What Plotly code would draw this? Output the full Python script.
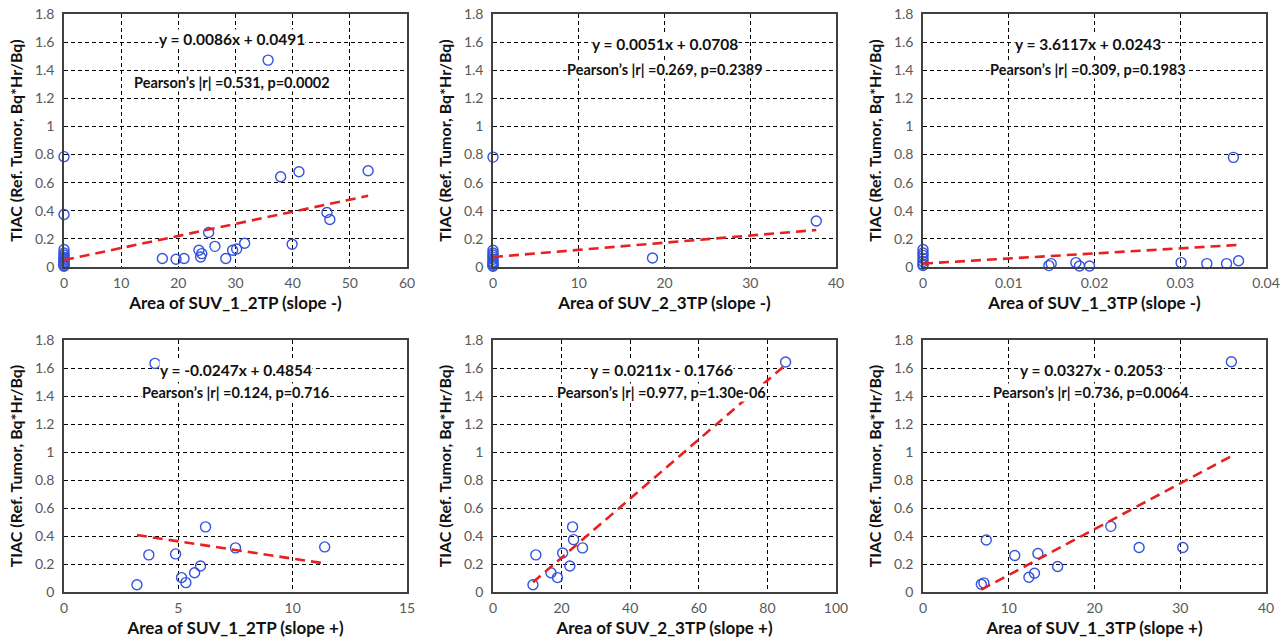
import numpy as np
import plotly.graph_objects as go
from plotly.subplots import make_subplots

# ---- data ----
x_suv1_2tp_neg = [0, 0, 0, 0, 0, 0, 0, 0, 0, 0, 0, 0, 0,
                  35.7, 37.9, 41.1, 53.2, 46.0, 46.5, 39.9, 25.3, 26.4, 23.6, 24.1, 23.9,
                  17.2, 19.6, 21.0, 28.3, 29.5, 30.2, 31.6]
y_suv1_2tp_neg = [0.785, 0.373, 0.124, 0.10, 0.085, 0.07, 0.06, 0.05, 0.04, 0.03, 0.02, 0.01, 0.005,
                  1.472, 0.642, 0.678, 0.685, 0.388, 0.338, 0.162, 0.245, 0.147, 0.119, 0.095, 0.071,
                  0.06, 0.055, 0.06, 0.06, 0.119, 0.128, 0.169]

x_suv2_3tp_neg = [0, 0, 0, 0, 0, 0, 0, 0, 0, 0, 0, 18.6, 37.7]
y_suv2_3tp_neg = [0.782, 0.119, 0.10, 0.085, 0.07, 0.055, 0.04, 0.03, 0.02, 0.01, 0.005, 0.064, 0.327]

x_suv1_3tp_neg = [0, 0, 0, 0, 0, 0, 0,
                  0.0362, 0.01468, 0.01495, 0.01783, 0.01825, 0.01942, 0.0301, 0.0331, 0.0354, 0.0368]
y_suv1_3tp_neg = [0.124, 0.10, 0.083, 0.06, 0.04, 0.02, 0.01,
                  0.78, 0.01, 0.024, 0.031, 0.007, 0.007, 0.031, 0.024, 0.024, 0.045]

x_suv1_2tp_pos = [3.98, 3.19, 3.71, 4.88, 6.19, 5.14, 5.33, 5.71, 5.97, 7.50, 11.40]
y_suv1_2tp_pos = [1.633, 0.052, 0.265, 0.272, 0.465, 0.103, 0.067, 0.138, 0.186, 0.315, 0.322]

x_suv2_3tp_pos = [85.3, 11.65, 12.5, 16.9, 18.8, 20.3, 22.4, 23.2, 23.5, 26.1]
y_suv2_3tp_pos = [1.643, 0.052, 0.265, 0.138, 0.103, 0.279, 0.186, 0.465, 0.374, 0.315]

x_suv1_3tp_pos = [35.96, 6.80, 7.10, 7.38, 10.7, 12.35, 13.0, 13.4, 15.7, 21.9, 25.2, 30.3]
y_suv1_3tp_pos = [1.645, 0.055, 0.065, 0.371, 0.261, 0.105, 0.134, 0.275, 0.182, 0.469, 0.318, 0.318]

x_titles = ["Area of SUV_1_2TP (slope -)", "Area of SUV_2_3TP (slope -)", "Area of SUV_1_3TP (slope -)",
            "Area of SUV_1_2TP (slope +)", "Area of SUV_2_3TP (slope +)", "Area of SUV_1_3TP (slope +)"]
y_title = "TIAC (Ref. Tumor, Bq*Hr/Bq)"

slopes = [0.0086, 0.0051, 3.6117, -0.0247, 0.0211, 0.0327]
intercepts = [0.0491, 0.0708, 0.0243, 0.4854, -0.1766, -0.2053]
eq_labels = ["y = 0.0086x + 0.0491", "y = 0.0051x + 0.0708", "y = 3.6117x + 0.0243",
             "y = -0.0247x + 0.4854", "y = 0.0211x - 0.1766", "y = 0.0327x - 0.2053"]
r_labels = ["Pearson\u2019s |r| =0.531, p=0.0002", "Pearson\u2019s |r| =0.269, p=0.2389",
            "Pearson\u2019s |r| =0.309, p=0.1983", "Pearson\u2019s |r| =0.124, p=0.716",
            "Pearson\u2019s |r| =0.977, p=1.30e-06", "Pearson\u2019s |r| =0.736, p=0.0064"]

x_max = [60, 40, 0.04, 15, 100, 40]
x_dtick = [10, 10, 0.01, 5, 20, 10]

xs = [x_suv1_2tp_neg, x_suv2_3tp_neg, x_suv1_3tp_neg, x_suv1_2tp_pos, x_suv2_3tp_pos, x_suv1_3tp_pos]
ys = [y_suv1_2tp_neg, y_suv2_3tp_neg, y_suv1_3tp_neg, y_suv1_2tp_pos, y_suv2_3tp_pos, y_suv1_3tp_pos]

# annotation positions as fractions of each panel (x, y_eq, y_r)
ann_pos = [(0.49, 0.90, 0.73), (0.50, 0.88, 0.78), (0.48, 0.88, 0.78),
           (0.50, 0.88, 0.79), (0.49, 0.88, 0.79), (0.49, 0.88, 0.79)]

W, H = 1288, 639
col_px = [(64, 407), (493, 836), (923, 1266)]
row_px = [(14, 267), (340, 592)]

FONT = "Lato"
BLUE = "#3352e0"
RED = "#e8201f"

fig = make_subplots(rows=2, cols=3)

for i in range(6):
    r, c = i // 3 + 1, i % 3 + 1
    fig.add_trace(go.Scatter(x=xs[i], y=ys[i], mode="markers", cliponaxis=False,
                             marker=dict(symbol="circle-open", size=10, color=BLUE,
                                         line=dict(width=1.4, color=BLUE)),
                             showlegend=False), row=r, col=c)
    xl = np.array([min(xs[i]), max(xs[i])])
    fig.add_trace(go.Scatter(x=xl, y=slopes[i] * xl + intercepts[i], mode="lines",
                             line=dict(color=RED, width=2.6, dash="10px,6px"),
                             showlegend=False), row=r, col=c)

    x0, x1 = col_px[c - 1]
    y0, y1 = row_px[r - 1]
    axn = "" if i == 0 else str(i + 1)
    fig.layout["xaxis" + axn].update(
        domain=[x0 / W, x1 / W], range=[0, x_max[i]], dtick=x_dtick[i], automargin=False,
        showgrid=True, gridcolor="black", griddash="4px,3px", gridwidth=1,
        showline=True, linecolor="#404040", linewidth=1.5, mirror=True,
        zeroline=False, ticks="", ticklabelstandoff=2,
        tickfont=dict(family=FONT, size=14, color="#595959"),
        title=dict(text=x_titles[i], standoff=8,
                   font=dict(family=FONT, size=17, color="#111111", weight="bold")))
    fig.layout["yaxis" + axn].update(
        domain=[1 - y1 / H, 1 - y0 / H], range=[0, 1.8], dtick=0.2, automargin=False,
        showgrid=True, gridcolor="black", griddash="4px,3px", gridwidth=1,
        showline=True, linecolor="#404040", linewidth=1.5, mirror=True,
        zeroline=False, ticks="", ticklabelstandoff=5,
        tickfont=dict(family=FONT, size=14, color="#595959"),
        title=dict(text=y_title, standoff=8,
                   font=dict(family=FONT, size=16, color="#111111", weight="bold")))

    ax, ay_eq, ay_r = ann_pos[i]
    for txt, ay, fs in ((eq_labels[i], ay_eq, 15.5), (r_labels[i], ay_r, 14.5)):
        fig.add_annotation(x=ax * x_max[i], y=ay * 1.8, xref="x" + axn, yref="y" + axn,
                           text=txt, showarrow=False, bgcolor="white", borderpad=0,
                           font=dict(family=FONT, size=fs, color="#111111", weight="bold"))

fig.update_layout(width=W, height=H, margin=dict(l=0, r=0, t=0, b=0),
                  paper_bgcolor="white", plot_bgcolor="white")

# drop the browser's default body margin so the figure fills the window exactly
fig.write_html("out.html", config={"displayModeBar": False},
               post_script="document.body.style.margin='0';")
